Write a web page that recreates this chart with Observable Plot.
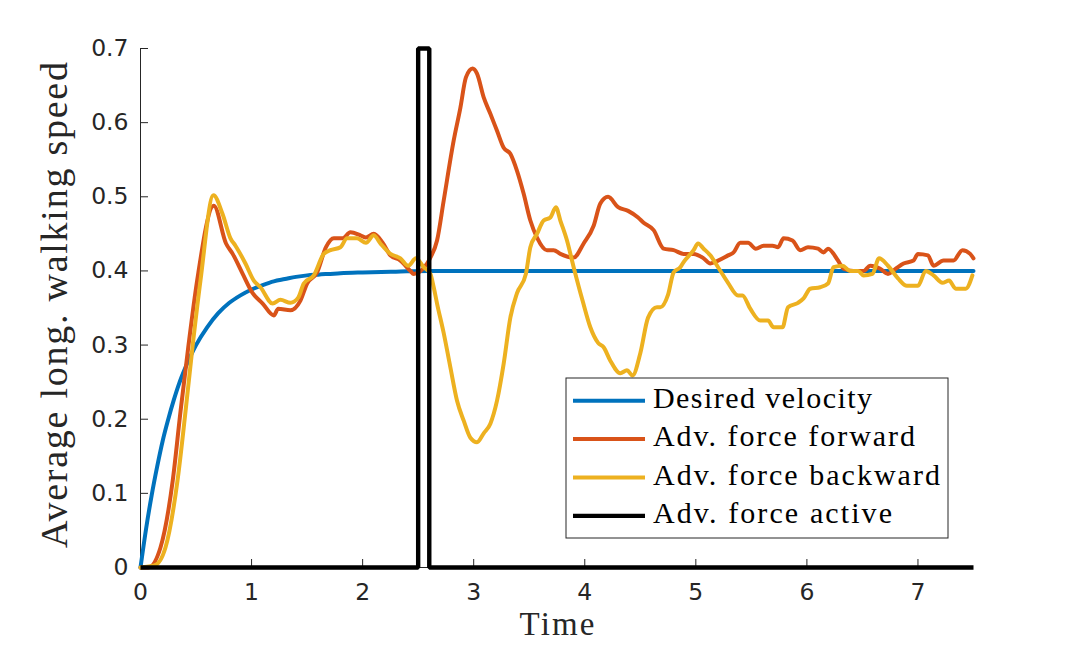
<!DOCTYPE html>
<html>
<head>
<meta charset="utf-8">
<script src="https://cdn.jsdelivr.net/npm/d3@7"></script>
<script src="https://cdn.jsdelivr.net/npm/@observablehq/plot@0.6"></script>
<style>
  html, body { margin: 0; padding: 0; background: #fff; }
</style>
</head>
<body>
<div id="chart"></div>
<script>
// ---- Data ----
const seriesNames = ["Desired velocity", "Adv. force forward", "Adv. force backward", "Adv. force active"];
const seriesColors = ["#0072BD", "#D95319", "#EDB120", "#000000"];

const xTicks = [0, 1, 2, 3, 4, 5, 6, 7];
const yTicks = [0, 0.1, 0.2, 0.3, 0.4, 0.5, 0.6, 0.7];
const yTickLabels = ["0", "0.1", "0.2", "0.3", "0.4", "0.5", "0.6", "0.7"];

const desiredT = [0,0.05,0.1,0.15,0.2,0.25,0.3,0.35,0.4,0.45,0.5,0.6,0.7,0.8,0.9,1.0,1.1,1.2,1.3,1.4,1.5,1.6,1.8,2.0,2.3,2.6,7.5];
const desiredV = [0,0.052,0.097,0.136,0.171,0.200,0.226,0.249,0.268,0.285,0.300,0.324,0.343,0.357,0.367,0.375,0.381,0.386,0.389,0.392,0.394,0.395,0.397,0.398,0.399,0.400,0.400];

const forwardT = [0,0.07,0.18,0.29,0.36,0.43,0.51,0.66,0.77,0.83,0.92,1.01,1.10,1.20,1.24,1.35,1.44,1.50,1.59,1.67,1.74,1.82,1.89,1.98,2.03,2.10,2.18,2.25,2.34,2.43,2.46,2.58,2.61,2.67,2.73,2.82,2.88,2.93,2.99,3.03,3.09,3.15,3.21,3.27,3.33,3.39,3.45,3.51,3.57,3.66,3.72,3.78,3.90,3.99,4.08,4.14,4.21,4.30,4.39,4.48,4.53,4.62,4.71,4.80,4.89,4.98,5.07,5.13,5.20,5.29,5.34,5.40,5.47,5.54,5.61,5.69,5.74,5.79,5.87,5.94,6.01,6.10,6.15,6.19,6.28,6.33,6.42,6.51,6.57,6.66,6.73,6.80,6.87,6.96,7.00,7.09,7.14,7.23,7.32,7.40,7.47,7.50];
const forwardV = [0,0,0.027,0.117,0.21,0.297,0.387,0.488,0.437,0.423,0.396,0.37,0.356,0.34,0.349,0.347,0.36,0.383,0.398,0.432,0.444,0.444,0.452,0.448,0.445,0.45,0.438,0.421,0.414,0.40,0.396,0.41,0.418,0.441,0.495,0.576,0.62,0.661,0.673,0.666,0.634,0.612,0.589,0.566,0.558,0.535,0.504,0.468,0.445,0.428,0.428,0.423,0.418,0.437,0.461,0.491,0.50,0.486,0.481,0.472,0.465,0.455,0.43,0.428,0.423,0.423,0.417,0.41,0.414,0.421,0.425,0.438,0.438,0.43,0.434,0.434,0.432,0.444,0.441,0.428,0.432,0.43,0.425,0.43,0.414,0.403,0.40,0.40,0.407,0.403,0.396,0.403,0.41,0.414,0.423,0.421,0.407,0.414,0.414,0.428,0.423,0.417];

const backwardT = [0,0.13,0.225,0.333,0.405,0.468,0.54,0.657,0.738,0.81,0.855,0.945,1.02,1.08,1.19,1.26,1.35,1.42,1.47,1.56,1.65,1.71,1.80,1.86,1.95,2.03,2.10,2.16,2.25,2.34,2.41,2.48,2.55,2.61,2.64,2.67,2.73,2.79,2.85,2.91,2.97,3.03,3.09,3.15,3.21,3.27,3.33,3.39,3.47,3.51,3.57,3.63,3.69,3.74,3.78,3.84,3.90,3.98,4.05,4.12,4.17,4.23,4.32,4.38,4.43,4.50,4.57,4.65,4.68,4.75,4.80,4.86,4.89,4.98,5.02,5.07,5.13,5.20,5.29,5.38,5.42,5.49,5.58,5.65,5.70,5.78,5.83,5.92,5.97,6.03,6.12,6.19,6.24,6.32,6.39,6.46,6.51,6.59,6.65,6.73,6.82,6.90,7.00,7.07,7.14,7.22,7.28,7.34,7.43,7.49];
const backwardV = [0,0.003,0.027,0.117,0.21,0.297,0.387,0.502,0.477,0.444,0.434,0.41,0.387,0.378,0.356,0.361,0.357,0.364,0.383,0.394,0.423,0.428,0.432,0.444,0.444,0.438,0.448,0.437,0.423,0.417,0.407,0.417,0.405,0.396,0.378,0.356,0.316,0.27,0.225,0.198,0.175,0.169,0.181,0.194,0.225,0.275,0.337,0.37,0.396,0.432,0.45,0.468,0.472,0.486,0.468,0.441,0.405,0.36,0.324,0.303,0.297,0.279,0.262,0.266,0.259,0.289,0.337,0.351,0.351,0.368,0.398,0.405,0.412,0.428,0.437,0.43,0.421,0.405,0.384,0.367,0.367,0.349,0.333,0.333,0.324,0.324,0.351,0.357,0.363,0.376,0.378,0.383,0.405,0.407,0.40,0.40,0.394,0.396,0.417,0.407,0.39,0.38,0.38,0.40,0.394,0.384,0.387,0.376,0.376,0.394];

const activeT = [0, 2.5, 2.5, 2.6, 2.6, 7.5];
const activeV = [0, 0, 0.7, 0.7, 0, 0];

// ---- Build tables ----
const toRows = (T, V) => T.map((t, i) => ({t, v: V[i]}));
const desired = toRows(desiredT, desiredV);
const forward = toRows(forwardT, forwardV);
const backward = toRows(backwardT, backwardV);
const active = toRows(activeT, activeV);

const axisColor = "#262626";
const lw = 4;

const chart = Plot.plot({
  width: 1076,
  height: 649,
  marginLeft: 140,
  marginRight: 103,
  marginTop: 48,
  marginBottom: 82,
  style: {fontFamily: "DejaVu Sans", fontSize: "23px", color: axisColor, background: "#fff"},
  x: {domain: [0, 7.5]},
  y: {domain: [0, 0.7]},
  marks: [
    Plot.ruleX([0], {stroke: axisColor, strokeWidth: 1}),
    Plot.ruleY([0], {stroke: axisColor, strokeWidth: 1}),
    Plot.axisX({ticks: xTicks, tickSize: -8, tickFormat: () => "", label: null, stroke: axisColor}),
    Plot.axisY({ticks: yTicks, tickSize: -8, tickFormat: () => "", label: null, stroke: axisColor}),
    Plot.axisX({ticks: xTicks, tickSize: 0, tickPadding: 16, label: null, fill: axisColor, fontSize: 23.5, tickFormat: d => String(d)}),
    Plot.axisY({ticks: yTicks, tickSize: 0, tickPadding: 12, label: null, fill: axisColor, fontSize: 23.5, tickFormat: d => yTickLabels[yTicks.indexOf(d)]}),
    Plot.line(desired, {x: "t", y: "v", stroke: seriesColors[0], strokeWidth: lw, curve: "monotone-x"}),
    Plot.line(forward, {x: "t", y: "v", stroke: seriesColors[1], strokeWidth: lw, curve: "monotone-x"}),
    Plot.line(backward, {x: "t", y: "v", stroke: seriesColors[2], strokeWidth: lw, curve: "monotone-x"}),
    Plot.line(active, {x: "t", y: "v", stroke: seriesColors[3], strokeWidth: 4.4, strokeLinejoin: "miter", strokeLinecap: "butt"})
  ]
});
document.getElementById("chart").append(chart);

// ---- Axis titles and legend (serif, LaTeX-like) ----
const svg = d3.select(chart);
const serif = "'Liberation Serif', 'Times New Roman', serif";

svg.append("text")
  .attr("transform", "translate(67,305) rotate(-90)")
  .attr("text-anchor", "middle")
  .attr("font-family", serif)
  .attr("font-size", 38)
  .attr("fill", axisColor)
  .attr("textLength", 486)
  .attr("lengthAdjust", "spacing")
  .text("Average long. walking speed");

svg.append("text")
  .attr("x", 557)
  .attr("y", 635)
  .attr("text-anchor", "middle")
  .attr("font-family", serif)
  .attr("font-size", 33)
  .attr("fill", axisColor)
  .attr("textLength", 75)
  .attr("lengthAdjust", "spacing")
  .text("Time");

const legendTextLengths = [219, 262, 287, 239];
const lg = svg.append("g");
lg.append("rect")
  .attr("x", 566).attr("y", 378).attr("width", 382).attr("height", 160)
  .attr("fill", "#fff").attr("stroke", axisColor).attr("stroke-width", 1);
seriesNames.forEach((name, i) => {
  const yy = 400.7 + i * 38.4;
  lg.append("line")
    .attr("x1", 573).attr("x2", 645).attr("y1", yy).attr("y2", yy)
    .attr("stroke", seriesColors[i]).attr("stroke-width", i === 3 ? 4.4 : lw);
  lg.append("text")
    .attr("x", 653).attr("y", yy + 7)
    .attr("text-anchor", "start")
    .attr("font-family", serif)
    .attr("font-size", 30)
    .attr("fill", "#000")
    .attr("textLength", legendTextLengths[i])
    .attr("lengthAdjust", "spacing")
    .text(name);
});
</script>
</body>
</html>
